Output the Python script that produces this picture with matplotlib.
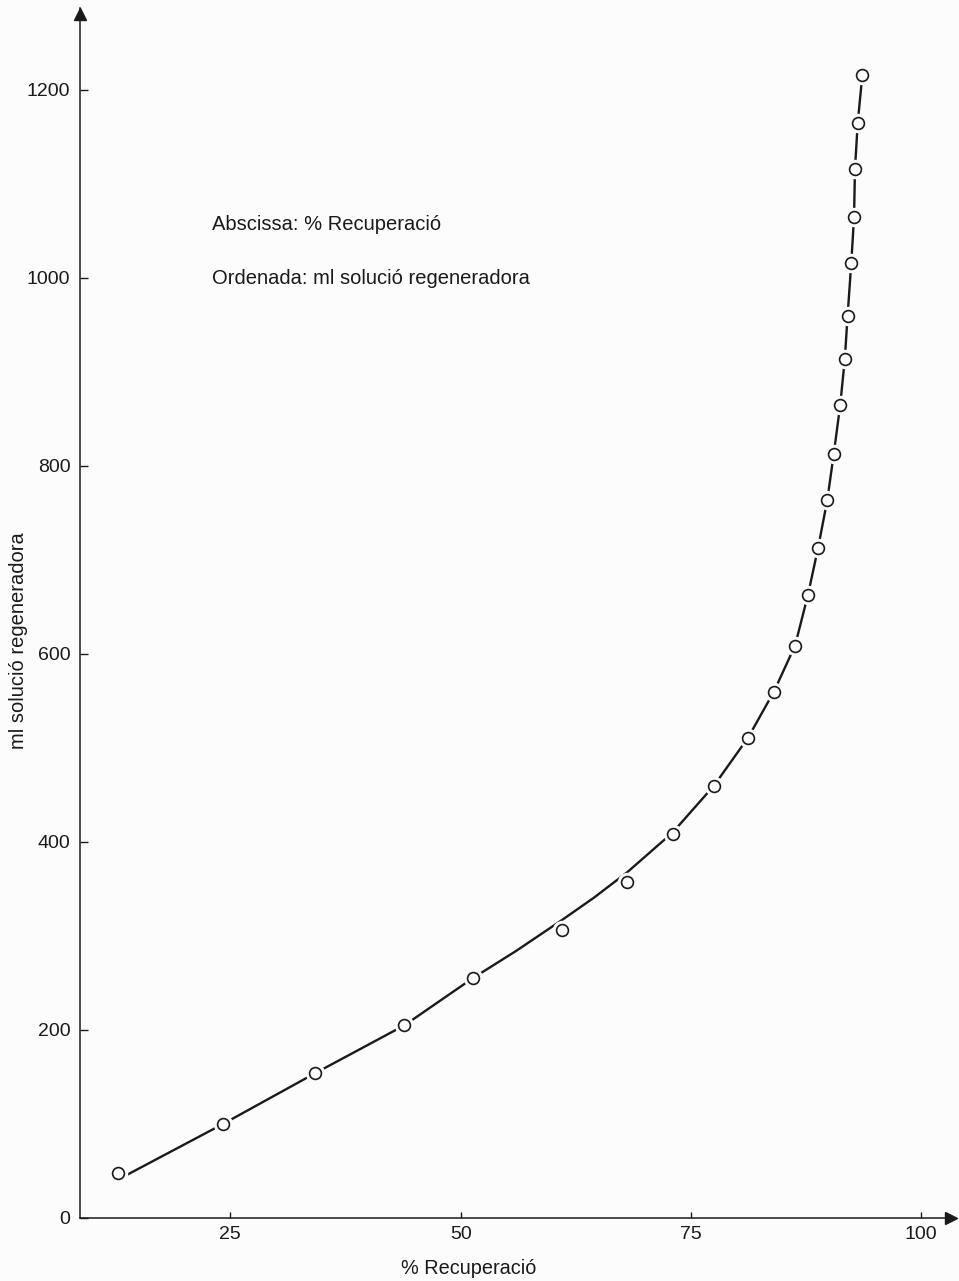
import matplotlib.pyplot as plt

plt.rcParams['font.family'] = ['Liberation Sans', 'DejaVu Sans']

###  DATA  ###

# measured points: % recovery vs ml of regenerating solution
recup = [12.8, 24.2, 34.2, 43.9, 51.3, 61.0, 68.1, 73.0, 77.5, 81.2, 84.0, 86.3,
         87.7, 88.8, 89.8, 90.5, 91.2, 91.7, 92.0, 92.4, 92.7, 92.8, 93.1, 93.6]
ml = [48, 100, 154, 205, 255, 306, 357, 408, 460, 511, 560, 609,
      663, 713, 764, 813, 865, 914, 960, 1016, 1065, 1116, 1165, 1216]

# hand-drawn smooth curve through the points
curve_x = [13.8, 24.2, 34.2, 43.9, 51.3, 56.0, 61.0, 64.5, 68.1, 73.0, 77.5, 81.2, 84.0,
           86.3, 87.7, 88.8, 89.8, 90.5, 91.2, 91.7, 92.0, 92.4, 92.7, 92.8, 93.1, 93.6]
curve_y = [46, 100, 154, 205, 255, 284, 317, 341, 368, 410, 460, 511, 560,
           609, 663, 713, 764, 813, 865, 914, 960, 1016, 1065, 1116, 1165, 1216]

xticks = [25, 50, 75, 100]
yticks = [0, 200, 400, 600, 800, 1000, 1200]

###  PLOT  ###

W, H = 959, 1281
ink = '#1a1a1a'
paper = '#fcfcfc'

fig = plt.figure(figsize=(W / 100, H / 100), dpi=100)
fig.patch.set_facecolor(paper)
ax = fig.add_axes([80 / W, 63 / H, 875 / W, 1210 / H])
ax.set_facecolor('none')

ax.set_xlim(80 / 9.213, 955 / 9.213)
ax.set_ylim(0, 1210 / 0.94)

for s in ['top', 'right']:
    ax.spines[s].set_visible(False)
for s in ['left', 'bottom']:
    ax.spines[s].set_linewidth(1.1)
    ax.spines[s].set_color(ink)

# arrow heads at the ends of both axes
ax.plot(0, 0.995, marker='^', color=ink, markersize=8, transform=ax.transAxes, clip_on=False)
ax.plot(0.995, 0, marker='>', color=ink, markersize=8, transform=ax.transAxes, clip_on=False)

ax.set_xticks(xticks)
ax.set_xticklabels([str(t) for t in xticks])
ax.set_yticks(yticks)
ax.set_yticklabels([str(t) for t in yticks])
ax.tick_params(axis='x', direction='in', length=4, width=1, color=ink,
               labelsize=14, labelcolor=ink, pad=6)
ax.tick_params(axis='y', direction='in', length=6, width=1, color=ink,
               labelsize=14, labelcolor=ink, pad=7)

# curve, with white halos so it breaks around the circles
ax.plot(curve_x, curve_y, '-', color=ink, lw=1.7, zorder=2)
ax.plot(recup, ml, 'o', ls='none', ms=14, mfc=paper, mec='none', zorder=3)
ax.plot(recup, ml, 'o', ls='none', ms=8.5, mfc=paper, mec=ink, mew=1.2, zorder=4)

fig.text(212 / W, 1 - 225 / H, 'Abscissa: % Recuperació', fontsize=14.5, color=ink,
         ha='left', va='center')
fig.text(212 / W, 1 - 278 / H, 'Ordenada: ml solució regeneradora', fontsize=14.5, color=ink,
         ha='left', va='center')

fig.text(469 / W, 1 - 1268 / H, '% Recuperació', fontsize=14.3, color=ink,
         ha='center', va='center')
fig.text(19 / W, 1 - 641 / H, 'ml solució regeneradora', fontsize=14.5, color=ink,
         ha='center', va='center', rotation=90)

fig.savefig('out.png', dpi=100, facecolor=fig.get_facecolor())
